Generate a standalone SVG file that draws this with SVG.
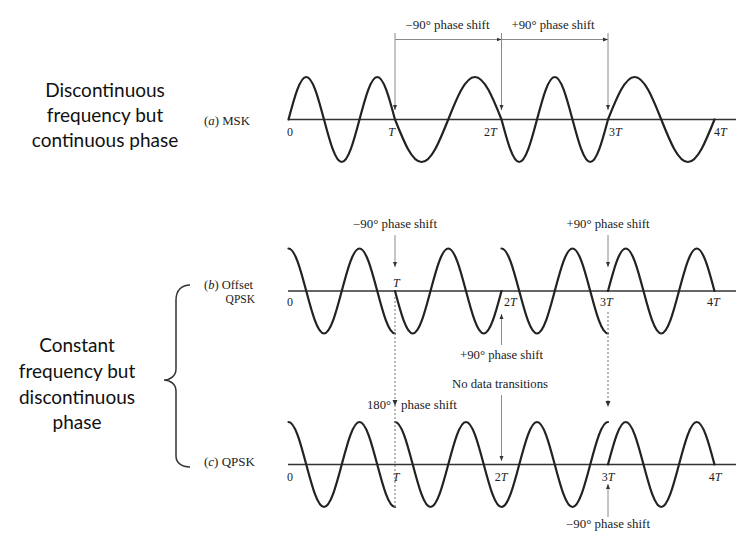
<svg xmlns="http://www.w3.org/2000/svg" width="756" height="537" viewBox="0 0 756 537">
<defs>
<marker id="ah" viewBox="0 0 10 8" refX="10" refY="4" markerWidth="5" markerHeight="4.5" markerUnits="userSpaceOnUse" orient="auto"><path d="M0,0 L10,4 L0,8 z" fill="#333"/></marker>
</defs>
<style>
.wave{fill:none;stroke:#222;stroke-width:2.2;stroke-linejoin:round;stroke-linecap:round}
.axis{fill:none;stroke:#333;stroke-width:1.3}
.arr{fill:none;stroke:#8a8a8a;stroke-width:1;marker-end:url(#ah)}
.dot{fill:none;stroke:#888;stroke-width:1.2;stroke-dasharray:2 2}
.s{font-family:"Liberation Serif",serif;font-size:11.5px;fill:#222}
.t{font-family:"Liberation Serif",serif;font-size:12px;fill:#222}
.i{font-style:italic}
.big{font-family:Lato,"Liberation Sans",sans-serif;font-size:19px;fill:#111;text-anchor:middle}
.m{text-anchor:middle}
</style>
<rect width="756" height="537" fill="#fff"/>

<g id="desc-a">
<text class="big" x="105" y="97">Discontinuous</text>
<text class="big" x="105" y="122">frequency but</text>
<text class="big" x="105" y="147">continuous phase</text>
</g>
<g id="desc-bc">
<text class="big" x="77" y="352">Constant</text>
<text class="big" x="77" y="378">frequency but</text>
<text class="big" x="77" y="403.5">discontinuous</text>
<text class="big" x="77" y="429">phase</text>
<path d="M190,285 C182,285 176,290 176,300 L176,369 C176,376 170,380 164,380 C170,380 176,384 176,391 L176,456 C176,463 182,467 190,467" fill="none" stroke="#333" stroke-width="1.5"/>
</g>

<g id="msk">
<text class="s" x="204" y="125" textLength="46" lengthAdjust="spacingAndGlyphs">(<tspan class="i">a</tspan>) MSK</text>
<line class="axis" x1="288" y1="119.5" x2="736" y2="119.5"/>
<path class="wave" d="M288.5,119.5 c5.8,-21.79 11.33,-42.5 17.75,-42.5 c6.43,0 11.960,20.71 17.75,42.5 c5.8,21.79 11.33,42.5 17.75,42.5 c6.43,0 11.96,-20.71 17.75,-42.5 c5.8,-21.79 11.33,-42.5 17.75,-42.5 c6.43,0 11.96,20.71 17.75,42.5 c8.69,21.79 16.99,42.5 26.625,42.5 c9.64,0 17.93,-20.71 26.625,-42.5 c8.69,-21.79 16.99,-42.5 26.625,-42.5 c9.64,0 17.93,20.71 26.625,42.5 c5.8,21.79 11.33,42.5 17.75,42.5 c6.43,0 11.96,-20.71 17.75,-42.5 c5.8,-21.79 11.33,-42.5 17.75,-42.5 c6.43,0 11.96,20.71 17.75,42.5 c5.8,21.79 11.33,42.5 17.75,42.5 c6.43,0 11.96,-20.71 17.75,-42.5 c8.69,-21.79 16.99,-42.5 26.625,-42.5 c9.64,0 17.93,20.71 26.625,42.5 c8.69,21.79 16.99,42.5 26.625,42.5 c9.64,0 17.93,-20.71 26.625,-42.5"/>
<text class="t" x="287" y="136">0</text>
<text class="t i" x="395" y="136" text-anchor="end">T</text>
<text class="t" x="484" y="136">2<tspan class="i">T</tspan></text>
<text class="t" x="609" y="136">3<tspan class="i">T</tspan></text>
<text class="t" x="714" y="136">4<tspan class="i">T</tspan></text>
<text class="s m" x="447.5" y="29" textLength="84" lengthAdjust="spacingAndGlyphs">−90° phase shift</text>
<text class="s m" x="553" y="29" textLength="83" lengthAdjust="spacingAndGlyphs">+90° phase shift</text>
</g>

<g id="oqpsk">
<text class="s" x="204" y="289" textLength="49" lengthAdjust="spacingAndGlyphs">(<tspan class="i">b</tspan>) Offset</text>
<text class="s" x="255" y="303" text-anchor="end">QPSK</text>
<line class="axis" x1="288" y1="291" x2="736" y2="291"/>
<path class="wave" d="M288.5,248.5 c6.43,0 11.96,20.71 17.75,42.5 c5.8,21.79 11.33,42.5 17.75,42.5 c6.43,0 11.96,-20.71 17.75,-42.5 c5.8,-21.79 11.33,-42.5 17.75,-42.5 c6.43,0 11.96,20.71 17.75,42.5 c5.8,21.79 11.33,42.5 17.75,42.5"/>
<path class="wave" d="M395,291 c5.8,21.79 11.33,42.5 17.75,42.5 c6.43,0 11.96,-20.71 17.75,-42.5 c5.8,-21.79 11.33,-42.5 17.75,-42.5 c6.43,0 11.96,20.71 17.75,42.5 c5.8,21.79 11.33,42.5 17.75,42.5 c6.43,0 11.96,-20.71 17.75,-42.5"/>
<path class="wave" d="M501.5,248.5 c6.43,0 11.96,20.71 17.75,42.5 c5.8,21.79 11.33,42.5 17.75,42.5 c6.43,0 11.96,-20.71 17.75,-42.5 c5.8,-21.79 11.33,-42.5 17.75,-42.5 c6.43,0 11.96,20.71 17.75,42.5 c5.8,21.79 11.33,42.5 17.75,42.5"/>
<path class="wave" d="M608,291 c5.8,-21.79 11.33,-42.5 17.75,-42.5 c6.43,0 11.96,20.71 17.75,42.5 c5.8,21.79 11.33,42.5 17.75,42.5 c6.43,0 11.96,-20.71 17.75,-42.5 c5.8,-21.79 11.33,-42.5 17.75,-42.5 c6.43,0 11.96,20.71 17.75,42.5"/>
<text class="t" x="287" y="306">0</text>
<text class="t i" x="393" y="287">T</text>
<text class="t" x="504" y="306">2<tspan class="i">T</tspan></text>
<text class="t" x="600" y="306">3<tspan class="i">T</tspan></text>
<text class="t" x="707" y="306">4<tspan class="i">T</tspan></text>
<text class="s m" x="395" y="228" textLength="84" lengthAdjust="spacingAndGlyphs">−90° phase shift</text>
<text class="s m" x="608" y="228" textLength="83" lengthAdjust="spacingAndGlyphs">+90° phase shift</text>
<text class="s m" x="501.5" y="359" textLength="83" lengthAdjust="spacingAndGlyphs">+90° phase shift</text>
</g>

<g id="qpsk">
<text class="s" x="204" y="466" textLength="51" lengthAdjust="spacingAndGlyphs">(<tspan class="i">c</tspan>) QPSK</text>
<line class="axis" x1="288" y1="464.5" x2="736" y2="464.5"/>
<path class="wave" d="M288.5,422 c6.43,0 11.96,20.71 17.75,42.5 c5.8,21.79 11.33,42.5 17.75,42.5 c6.43,0 11.96,-20.71 17.75,-42.5 c5.8,-21.79 11.33,-42.5 17.75,-42.5 c6.43,0 11.96,20.71 17.75,42.5 c5.8,21.79 11.33,42.5 17.75,42.5"/>
<path class="wave" d="M395,422 c6.43,0 11.96,20.71 17.75,42.5 c5.8,21.79 11.33,42.5 17.75,42.5 c6.43,0 11.96,-20.71 17.75,-42.5 c5.8,-21.79 11.33,-42.5 17.75,-42.5 c6.43,0 11.96,20.71 17.75,42.5 c5.8,21.79 11.33,42.5 17.75,42.5 c6.43,0 11.96,-20.71 17.75,-42.5 c5.8,-21.79 11.33,-42.5 17.75,-42.5 c6.43,0 11.96,20.71 17.75,42.5 c5.8,21.79 11.33,42.5 17.75,42.5 c6.43,0 11.96,-20.71 17.75,-42.5 c5.8,-21.79 11.33,-42.5 17.75,-42.5"/>
<path class="wave" d="M608,464.5 c5.8,-21.79 11.33,-42.5 17.75,-42.5 c6.43,0 11.96,20.71 17.75,42.5 c5.8,21.79 11.33,42.5 17.75,42.5 c6.43,0 11.96,-20.71 17.75,-42.5 c5.8,-21.79 11.33,-42.5 17.75,-42.5 c6.43,0 11.96,20.71 17.75,42.5"/>
<text class="t" x="287" y="481">0</text>
<text class="t i m" x="396" y="481">T</text>
<text class="t m" x="501" y="481">2<tspan class="i">T</tspan></text>
<text class="t m" x="608" y="481">3<tspan class="i">T</tspan></text>
<text class="t m" x="715" y="481">4<tspan class="i">T</tspan></text>
<text class="s m" x="500" y="388" textLength="96" lengthAdjust="spacingAndGlyphs">No data transitions</text>
<text class="s" x="391" y="409" text-anchor="end" textLength="24" lengthAdjust="spacingAndGlyphs">180°</text>
<text class="s" x="401" y="409" textLength="56" lengthAdjust="spacingAndGlyphs">phase shift</text>
<text class="s m" x="608" y="528" textLength="84" lengthAdjust="spacingAndGlyphs">−90° phase shift</text>
</g>

<g id="connectors">
<line class="arr" x1="395" y1="33" x2="395" y2="110"/>
<line class="arr" x1="501.5" y1="33" x2="501.5" y2="110"/>
<line class="arr" x1="608" y1="33" x2="608" y2="110"/>
<line class="arr" x1="395" y1="39.5" x2="501.5" y2="39.5"/>
<line class="arr" x1="501.5" y1="39.5" x2="608" y2="39.5"/>
<line class="arr" x1="395" y1="235" x2="395" y2="267"/>
<line class="arr" x1="608" y1="235" x2="608" y2="267"/>
<line class="arr" x1="501.5" y1="345" x2="501.5" y2="314"/>
<line class="dot" x1="395" y1="297" x2="395" y2="507"/>
<line class="dot" x1="608" y1="312" x2="608" y2="403"/>
<path d="M392.5,400 L397.5,400 L395,406 z" fill="#333"/>
<path d="M605.5,401 L610.5,401 L608,407 z" fill="#333"/>
<line class="arr" x1="501.5" y1="395" x2="501.5" y2="461"/>
<line class="arr" x1="608" y1="517" x2="608" y2="484"/>
</g>
</svg>
